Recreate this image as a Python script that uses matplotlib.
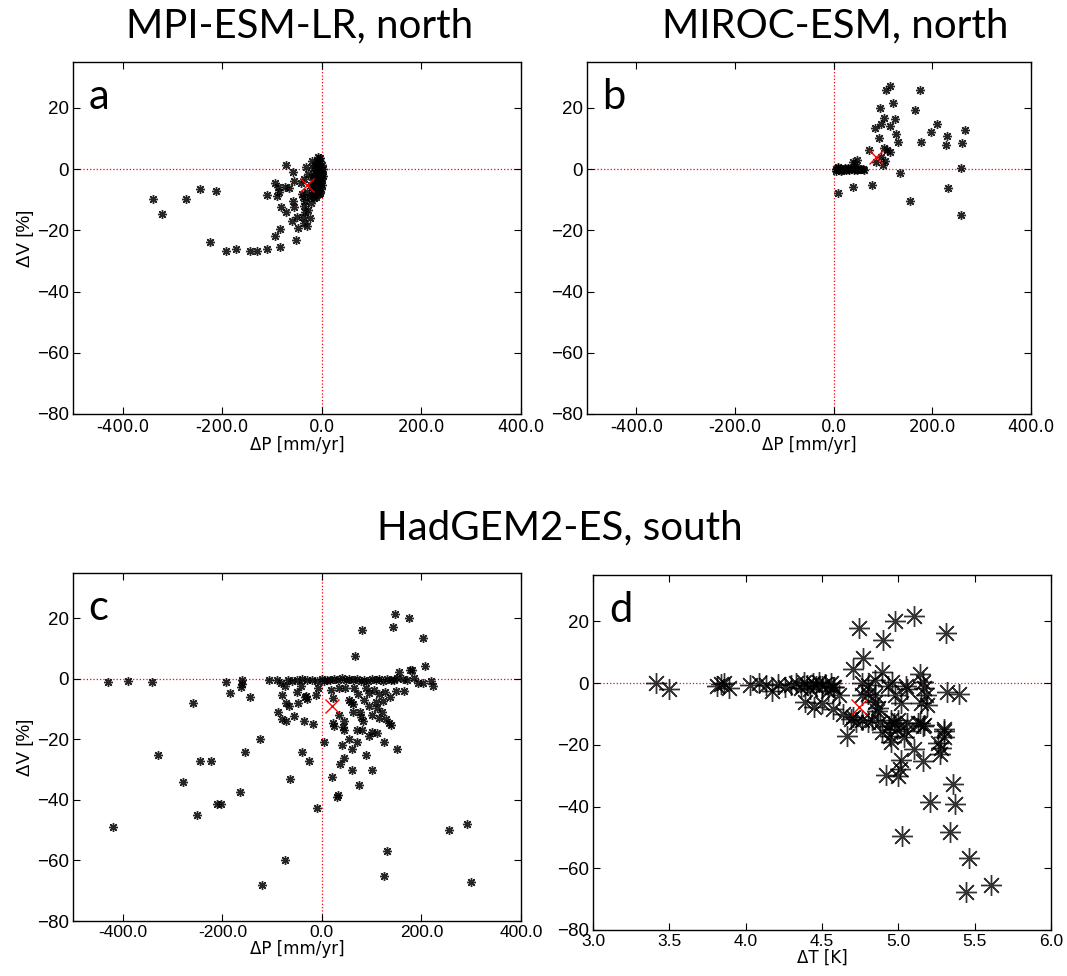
import matplotlib
matplotlib.use("Agg")
import matplotlib.pyplot as plt
from matplotlib.ticker import FormatStrFormatter

# panel a: MPI-ESM-LR north (dP [mm/yr], dV [%])
a_dp = [-340, -321, -273, -245, -212, -224, -192, -172, -144, -130, -111, -85, -95, -85, -53,
        -48, -61, -50, -73, -83, -56, -59, -110, -91, -86, -88, -74, -66, -95, -57, -72, -59,
        -20, -8,
        -36, -38, -34, -35, -33, -37, -40, -30, -42, -36, -31, -28, -25, -22, -27, -24, -30,
        -13, -10, -6, -3, 0, 2, -12, -9, -5, -1, 1, -14, -11, -7, -3, 0, 2, -15, -12, -8, -4,
        -1, 1, -16, -13, -9, -5, -2, -18, -14, -10, -6, -20, -16, -12, -3, -22, -19, -17, -4]
a_dv = [-9.9, -14.6, -9.6, -6.4, -7.2, -23.7, -26.6, -26, -26.8, -26.6, -26, -25.3, -21.8, -19.6,
        -23.2, -19.3, -16.8, -15.8, -14.1, -12.5, -12.5, -10.3, -8.6, -8.8, -7.5, -6.0, -5.9,
        -6.2, -4.6, -3.8, 1.5, -1.0, 2.7, 3.8,
        -17.5, -15.8, -14, -12, -10.5, -9, -8, -7.5, -4.5, -3.2, 0.7, -1.5, -9, -11, -13.5, -16,
        -18.5,
        1.5, 2.5, 1.8, 2.8, 1.2, 0.2, 0.3, -0.5, -0.2, -0.8, -1.5, -1.2, -2, -1.8, -2.5, -3,
        -2.2, -3, -3.6, -3.5, -4, -4.6, -5.2, -4.8, -5.5, -5.4, -6, -6.5, -6.8, -7.2, -7.5, -8,
        -8.5, -9.3, -9, -7.8, -5.2, -2.5, 0.5, 3.5]
a_mean = (-30, -5.2)

# panel b: MIROC-ESM north
b_dp = [115, 107, 175, 93, 121, 164, 103, 125, 95, 84, 114, 210, 197, 126, 92, 130, 178, 229,
        228, 267, 261, 102, 108, 114, 72, 96, 104, 100, 85, 39, 47, 43, 258, 134,
        5, 8, 11, 14, 17, 20, 23, 26, 29, 32, 35, 38, 41, 44, 47, 50, 53, 56, 59, 62, 4, 9, 15,
        30, 9.5, 39, 78, 232, 154, 259]
b_dv = [27.2, 25.8, 25.8, 20, 21.5, 19.3, 16.6, 16.4, 14.6, 13.5, 14.2, 14.8, 12, 11.6, 10.1,
        8.8, 8.9, 10.8, 7.9, 12.8, 8.6, 7, 6.3, 5.7, 6.3, 3.9, 2.5, 1.4, 2.4, 2.4, 3, 1.8, 0.5,
        -1.4,
        0, 0.3, -0.3, 0.2, -0.4, 0.1, 0.4, -0.2, 0.2, -0.3, 0, 0.3, -0.2, 0.1, -0.3, 0.2, -0.1,
        0.1, 0, -0.2, -0.5, 0.6, -0.6, 0.5, -7.8, -5.9, -5.3, -6.2, -10.4, -14.9]
b_mean = (85, 3.8)

# panel c: HadGEM2-ES south
c_dp = [-429, -389, -342, -259, -192, -184, -161, -161, -162, -144, -106, -90, -82, -75, -68,
        -60, -81, -73, -66, -88, -80, -72, -56, -36, -47, -50, -42, -34, -30, -32, -7, -12, -50,
        -40, -30, -20, -10, 0, 5, 10, 17, 19, 23, 35, 45, 22, 25, 42, 45, 35, 46, 55, 58, 62,
        67, 81, 142, 146, 175, 204, 208, 178, 182, 154, 162, 193, 203, 220, 224, 164, 148, 123,
        109, 111, 114, 121, 128, 134, 139, 76, 79, 82, 81, 70, 101, 25, 32, 40, 48, 55, 62, 70,
        78, 85, 92, 100, 108, 115, 122, 130, 138, 145, 150, 170, 185, 88, 95, 105, 115, 126,
        136, 65, 72, 85, 95, 62, 100,
        -420, -330, -279, -250, -245, -222, -210, -203, -165, -155, -125, -120, -75, -65, -10,
        30, 32, 20, 36, 45, 40, 55, 60, 70, 88, 95, 110, 125, 130, 125, 255, 292, 300, 5, -25,
        -40, -18, 150, 60, 75, 100]
c_dv = [-1.0, -0.8, -1.0, -8.1, -1, -4.6, -0.5, -1.8, -2.8, -6, -0.2, -0.5, -1.2, -2.5, -0.3,
        -0.8, -5.3, -8, -9, -11, -13.2, -14, -12.2, -13.8, -7.9, -4.2, -2.5, -6, -6.7, -5.5, -3,
        -5.2, -0.3, 0, -0.5, -0.2, -0.6, 0, -0.8, -0.3, -0.5, -3.5, -6.4, -11.8, -13.9, -14.7,
        -15.5, -16, -17, -3.1, -2.9, -7, -7.6, -8.2, 7.7, 16.1, 17.3, 21.3, 20, 13.6, 4.4, 3,
        3.1, 2.3, 0.1, -1.2, -1.5, -0.6, -2.2, -4, -4, -7.3, -7.7, -9.5, -12.9, -11, -13.3,
        -14.7, -15.3, -11, -12.5, -14, -16.8, -17, -17.5, 0, -0.4, 0.2, -0.3, 0, -0.5, 0, -0.6,
        -0.2, -0.8, 0, -0.4, -0.1, -0.6, 0, -0.3, -0.5, 0.2, -0.4, 0.3, -3, -4.5, -3.5, -5,
        -4.2, -6, -3, -5, -7, -9, -11, -12,
        -49, -25, -34, -45, -27, -27, -41.5, -41.5, -37.5, -24, -20, -68, -60, -33, -42.5, -39,
        -38.5, -32.5, -28, -26, -22, -20, -23, -21, -25, -19, -18, -21, -57, -65, -50, -48, -67,
        -21, -27, -24, -15, -23, -30, -35, -30]
c_mean = (20, -9.1)

# panel d: HadGEM2-ES south, dT [K]
d_dt = [3.415, 3.50, 3.81, 3.84, 3.86, 3.89, 4.03, 4.09, 4.13, 4.17, 4.21, 4.26, 4.30, 4.33,
        4.36, 4.38, 4.40, 4.42, 4.44, 4.46, 4.48, 4.50, 4.52, 4.54, 4.56, 4.58, 4.39, 4.45,
        4.50, 4.57, 4.64, 4.70, 4.61, 4.57, 4.74, 4.77, 4.70, 4.90, 4.98, 5.10, 5.31, 4.89,
        5.14, 5.32, 5.40, 4.76, 4.80, 4.85, 4.76, 4.80, 4.85, 4.85, 4.87, 4.86, 4.93, 4.96,
        4.98, 5.02, 5.05, 5.06, 5.16, 5.17, 5.18, 5.19, 5.15, 5.14, 5.17, 5.30, 4.95, 4.97,
        4.69, 4.76, 4.83,
        4.665, 4.72, 4.80, 4.88, 4.89, 4.94, 4.945, 4.95, 5.0, 4.99, 5.05, 5.06, 5.04, 5.10,
        5.02, 5.01, 5.00, 4.92, 5.16, 5.13, 5.16, 5.30, 5.30, 5.26, 5.28, 5.27, 5.36, 5.21,
        5.37, 5.025, 5.34, 5.46, 5.44, 5.61]
d_dv = [0, -1.8, -0.8, -0.3, 0, -1.6, -0.5, 0, -0.5, -2.5, -0.3, -1.2, -0.5, 0, -1.5, 0.2,
        -0.6, -2, 0, -0.8, 0.3, -1, -0.2, -2.5, 0, -1.2, -6.1, -7.7, -6.5, -8.3, -10, -11, -4,
        -1.3, 17.9, 8.2, 4.6, 14.1, 20.2, 21.6, 16.3, 3.5, 3.0, -2.9, -3.4, 0, -0.5, 1, -4,
        -3.5, -4, -6, -8, -9, -1, 0.5, -4, -6.5, -1, -2, 0.2, -1.5, -4, -7, -6.5, -13, -13.5,
        -15, -12, -13, -11.5, -12, -12,
        -17.3, -12.6, -12.6, -12.6, -15.8, -13.9, -17, -19.2, -12, -15, -15.5, -13, -17.5,
        -21.5, -25, -28, -30, -29.9, -25.3, -13, -14, -15.5, -17.5, -19.5, -21, -23, -32.6,
        -38.6, -39.3, -49.7, -48.2, -56.6, -67.6, -65.5]
d_mean = (4.74, -7.7)

ASTER = (8, 2, 0)  # matlab-style '*'
SANS = "Liberation Sans"
WIDE = "DejaVu Sans"
TITLEFONT = "Lato"


def style_axes(ax, xlim, xticks, xlabel, ylabel=None, xfont=SANS, xsize=12.5):
    ax.set_xlim(*xlim)
    ax.set_ylim(-80, 35)
    ax.set_xticks(xticks)
    ax.set_yticks([-80, -60, -40, -20, 0, 20])
    ax.xaxis.set_major_formatter(FormatStrFormatter("%.1f"))
    ax.tick_params(direction="in", top=True, right=True, length=5, width=0.8, pad=3)
    for lab in ax.get_xticklabels():
        lab.set_family(xfont)
        lab.set_fontsize(xsize)
    for lab in ax.get_yticklabels():
        lab.set_family(SANS)
        lab.set_fontsize(13.5)
    for sp in ax.spines.values():
        sp.set_linewidth(1.0)
    ax.set_xlabel(xlabel, family=WIDE, fontsize=12, labelpad=0)
    if ylabel:
        ax.set_ylabel(ylabel, family=SANS, fontsize=13.5, labelpad=2)


def letter(ax, s):
    ax.text(0.035, 0.955, s, transform=ax.transAxes, ha="left", va="top",
            family=TITLEFONT, fontsize=30)


fig = plt.figure(figsize=(10.67, 9.76), dpi=100)
W, H = 1067.0, 976.0


def add_axes(x0, y0, x1, y1):
    return fig.add_axes([x0 / W, 1 - y1 / H, (x1 - x0) / W, (y1 - y0) / H])


ax_a = add_axes(73, 62, 521, 414)
ax_b = add_axes(587, 62, 1031, 414)
ax_c = add_axes(73, 573, 521, 921)
ax_d = add_axes(593, 575, 1051, 930)

pticks = [-400, -200, 0, 200, 400]
for ax, dp, dv, m, lt in [(ax_a, a_dp, a_dv, a_mean, "a"),
                          (ax_b, b_dp, b_dv, b_mean, "b"),
                          (ax_c, c_dp, c_dv, c_mean, "c")]:
    ax.axhline(0, color="red", ls=":", lw=0.9, zorder=1)
    ax.axvline(0, color="red", ls=":", lw=0.9, zorder=1)
    ax.plot(dp, dv, ls="none", marker=ASTER, ms=6.5, mew=1.0, color="black", alpha=0.85,
            zorder=2)
    ax.plot(*m, ls="none", marker="x", ms=10, mew=1.0, color="red", zorder=3)
    top = ax is not ax_c
    style_axes(ax, (-500, 400), pticks, "ΔP [mm/yr]",
               "ΔV [%]" if ax is not ax_b else None,
               xfont=WIDE if top else SANS, xsize=12 if top else 12.5)
    letter(ax, lt)

ax_d.axhline(0, color="red", ls=":", lw=0.9, zorder=1)
ax_d.plot(d_dt, d_dv, ls="none", marker=ASTER, ms=15, mew=1.0, color="black", alpha=0.8,
          zorder=2)
ax_d.plot(*d_mean, ls="none", marker="x", ms=12, mew=1.0, color="red", zorder=3)
style_axes(ax_d, (3.0, 6.0), [3.0, 3.5, 4.0, 4.5, 5.0, 5.5, 6.0], "ΔT [K]")
letter(ax_d, "d")

fig.text(300 / W, 1 - 26 / H, "MPI-ESM-LR, north", ha="center", va="center",
         family=TITLEFONT, fontsize=29)
fig.text(835 / W, 1 - 26 / H, "MIROC-ESM, north", ha="center", va="center",
         family=TITLEFONT, fontsize=29)
fig.text(560 / W, 1 - 528 / H, "HadGEM2-ES, south", ha="center", va="center",
         family=TITLEFONT, fontsize=29)

fig.savefig("out.png", dpi=100)
